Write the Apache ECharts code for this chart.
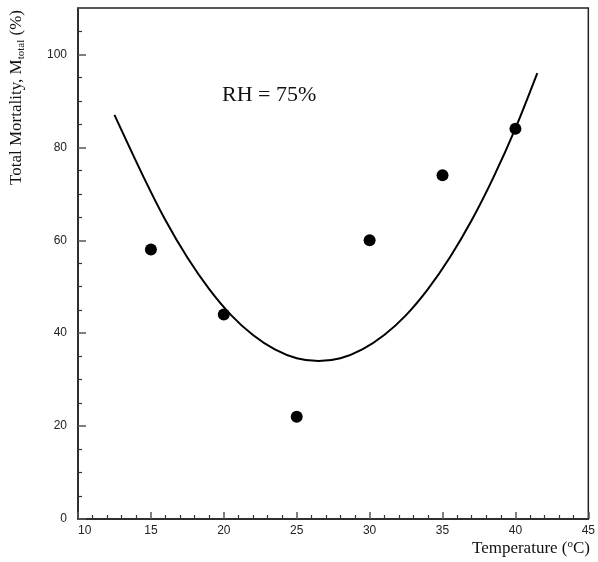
<!DOCTYPE html>
<html>
<head>
<meta charset="utf-8">
<script src="https://cdn.jsdelivr.net/npm/echarts@6/dist/echarts.min.js"></script>
<style>
  html, body { margin: 0; padding: 0; background: #fff; }
  #chart { width: 598px; height: 562px; }
</style>
</head>
<body>
<div id="chart"></div>
<script>
// Observed mortality at each temperature (RH = 75%)
const temperatures = [15, 20, 25, 30, 35, 40];
const mortality = [58, 44, 22, 60, 74, 84];

// Fitted response curve, sampled along the temperature range
const fitTemperatures = [12.5, 14.5, 16, 17.5, 19, 20.5, 22, 23.5, 25, 26.5, 28, 29.5, 31, 32.5, 34, 35.5, 37, 38.5, 40, 41.5];
const fitMortality = [87, 73.6, 64.3, 56.3, 49.5, 43.9, 39.6, 36.5, 34.6, 34, 34.6, 36.5, 39.6, 43.9, 49.5, 56.3, 64.3, 73.6, 84.1, 96];

const xTicks = [10, 15, 20, 25, 30, 35, 40, 45];
const yTicks = [0, 20, 40, 60, 80, 100];

const serif = '"Liberation Serif", "Times New Roman", serif';
const sans = '"Liberation Sans", Arial, sans-serif';

const chart = echarts.init(document.getElementById('chart'), null, { renderer: 'canvas' });

const axisLineStyle = { color: '#222', width: 1.5 };

chart.setOption({
  animation: false,
  backgroundColor: '#fff',
  grid: {
    left: 78, right: 8, top: 8, bottom: 43,
    show: true, borderColor: '#222', borderWidth: 1.5, backgroundColor: 'transparent'
  },
  xAxis: {
    type: 'value',
    min: xTicks[0], max: xTicks[xTicks.length - 1], interval: 5,
    axisLine: { show: true, onZero: false, lineStyle: axisLineStyle },
    axisTick: { show: true, inside: true, length: 7, lineStyle: { color: '#555', width: 1.5 } },
    minorTick: { show: true, splitNumber: 5, length: 4, lineStyle: { color: '#333', width: 1.2 } },
    splitLine: { show: false },
    axisLabel: {
      color: '#222', fontFamily: sans, fontSize: 12, margin: 6,
      alignMinLabel: 'left',
      formatter: v => xTicks.includes(v) ? String(v) : ''
    }
  },
  yAxis: {
    type: 'value',
    min: 0, max: 110, interval: 20,
    axisLine: { show: true, onZero: false, lineStyle: axisLineStyle },
    axisTick: { show: true, inside: true, length: 8, lineStyle: { color: '#555', width: 1.5 } },
    minorTick: { show: true, splitNumber: 4, length: 4, lineStyle: { color: '#333', width: 1.2 } },
    splitLine: { show: false },
    axisLabel: {
      color: '#222', fontFamily: sans, fontSize: 12, margin: 11,
      formatter: v => yTicks.includes(v) ? String(v) : ''
    }
  },
  series: [
    {
      type: 'line',
      data: fitTemperatures.map((t, i) => [t, fitMortality[i]]),
      smooth: 0.3,
      showSymbol: false,
      lineStyle: { color: '#000', width: 2 },
      z: 2
    },
    {
      type: 'scatter',
      data: temperatures.map((t, i) => [t, mortality[i]]),
      symbol: 'circle',
      symbolSize: 12,
      itemStyle: { color: '#000', opacity: 1 },
      z: 3
    }
  ],
  graphic: [
    {
      type: 'text',
      left: 222, top: 84,
      style: { text: 'RH = 75%', font: '22px ' + serif, fill: '#111' }
    },
    {
      type: 'text',
      x: 590, y: 549,
      style: {
        text: 'Temperature ({sup|o}C)',
        fontFamily: serif, fontSize: 17, fill: '#111',
        align: 'right', verticalAlign: 'middle',
        rich: { sup: { fontFamily: serif, fontSize: 11, fill: '#111', padding: [0, 0, 9, 0] } }
      }
    },
    {
      type: 'text',
      x: 17, y: 10,
      rotation: Math.PI / 2,
      style: {
        text: 'Total Mortality, M{sub|total} (%)',
        fontFamily: serif, fontSize: 17, fill: '#111',
        align: 'right', verticalAlign: 'middle',
        rich: { sub: { fontFamily: serif, fontSize: 11, fill: '#111', padding: [8, 0, 0, 0] } }
      }
    }
  ]
});
</script>
</body>
</html>
